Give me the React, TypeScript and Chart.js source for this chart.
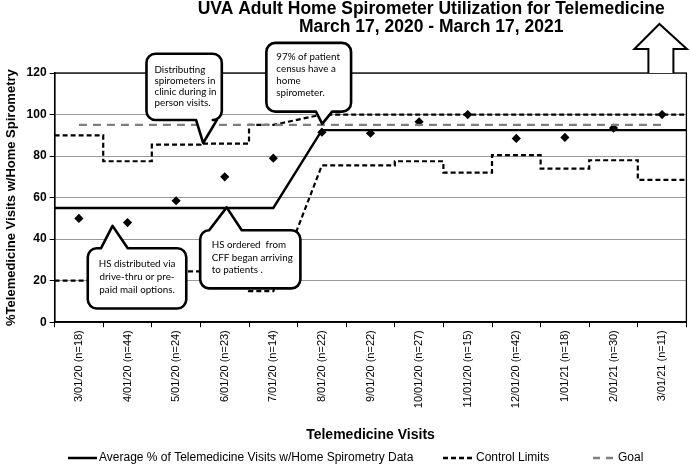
import React, { useEffect, useRef } from "react";
import { Chart, registerables } from "chart.js";

Chart.register(...registerables);

// ---------- data ----------
const monthLabels = [
  "3/01/20 (n=18)", "4/01/20 (n=44)", "5/01/20 (n=24)", "6/01/20 (n=23)",
  "7/01/20 (n=14)", "8/01/20 (n=22)", "9/01/20 (n=22)", "10/01/20 (n=27)",
  "11/01/20 (n=15)", "12/01/20 (n=42)", "1/01/21 (n=18)", "2/01/21 (n=30)",
  "3/01/21 (n=11)",
];
const monthlyPercent = [50, 48, 58.5, 70, 79, 91.5, 91, 96.5, 100, 88.5, 89, 93.5, 100];
const averagePercent = [55, 55, 55, 55, 55, 92.5, 92.5, 92.5, 92.5, 92.5, 92.5, 92.5, 92.5];
const upperControl = [90, 77.5, 85.5, 86, 95, 100, 100, 100, 100, 100, 100, 100, 100];
const lowerControl = [20, 32.5, 24.5, 24, 15, 75.5, 75.5, 77.5, 72, 80.5, 74, 78, 68.5];
const goalPercent = [95, 95, 95, 95, 95, 95, 95, 95, 95, 95, 95, 95, 95];
const phase = [0, 0, 0, 0, 0, 1, 1, 1, 1, 1, 1, 1, 1];
const yTickValues = [0, 20, 40, 60, 80, 100, 120];

const titleLines = [
  "UVA Adult Home Spirometer Utilization for Telemedicine",
  "March 17, 2020 - March 17, 2021",
];
const xTitle = "Telemedicine Visits";
const yTitle = "%Telemedicine Visits w/Home Spirometry";
const legendItems = [
  { label: "Average % of Telemedicine Visits w/Home Spirometry Data", kind: "avg" },
  { label: "Control Limits", kind: "ctl" },
  { label: "Goal", kind: "goal" },
];

type Callout = {
  l: number; r: number; t: number; b: number;
  side: "top" | "bottom"; a: number; c: number; tipX: number; tipY: number;
  lines: string[]; align: "left" | "center"; padX: number; first: number; step: number;
};
const callouts: Callout[] = [
  { l: 1.39, r: 2.94, t: 129.3, b: 97.4, side: "bottom", a: 2.41, c: 2.84, tipX: 2.556, tipY: 86.3,
    lines: ["Distributing", "spirometers in", "clinic during in", "person visits."], align: "left", padX: 8, first: 16, step: 11.2 },
  { l: 3.857, r: 5.6, t: 134.5, b: 101.4, side: "bottom", a: 4.878, c: 5.21, tipX: 5.006, tipY: 95.5,
    lines: ["97% of patient", "census have a", "home", "spirometer."], align: "left", padX: 10, first: 13.5, step: 12.2 },
  { l: 0.182, r: 2.209, t: 35.6, b: 6.6, side: "top", a: 0.453, c: 1.005, tipX: 0.692, tipY: 46.4,
    lines: ["HS distributed via", "drive-thru or pre-", "paid mail options."], align: "center", padX: 0, first: 15.5, step: 13 },
  { l: 2.495, r: 4.557, t: 44.3, b: 16.3, side: "top", a: 2.68, c: 3.35, tipX: 3.04, tipY: 55.3,
    lines: ["HS ordered  from", "CFF began arriving", "to patients ."], align: "left", padX: 11.5, first: 15, step: 12.2 },
];

// full-width series: flat until a phase change, centre-to-centre across it
function stepSeries(values: number[]) {
  const n = values.length;
  const pts: { x: number; y: number }[] = [];
  for (let i = 0; i < n; i++) {
    const left = i > 0 && phase[i] !== phase[i - 1] ? i : i - 0.5;
    const right = i < n - 1 && phase[i] !== phase[i + 1] ? i : i + 0.5;
    pts.push({ x: left, y: values[i] }, { x: right, y: values[i] });
  }
  return pts;
}

const FONT = "'Liberation Sans', Arial, Helvetica, sans-serif";

const decorPlugin = {
  id: "decor",
  afterDatasetsDraw(chart: any) {
    const { ctx, chartArea } = chart;
    const xs = chart.scales.xl;
    const ys = chart.scales.y;
    ctx.save();
    ctx.strokeStyle = "#000";
    ctx.lineWidth = 1.3;
    ctx.strokeRect(chartArea.left, chartArea.top, chartArea.right - chartArea.left, chartArea.bottom - chartArea.top);

    for (const co of callouts) {
      const l = xs.getPixelForValue(co.l), r = xs.getPixelForValue(co.r);
      const t = ys.getPixelForValue(co.t), b = ys.getPixelForValue(co.b);
      const a = xs.getPixelForValue(co.a), c = xs.getPixelForValue(co.c);
      const tx = xs.getPixelForValue(co.tipX), ty = ys.getPixelForValue(co.tipY);
      const rad = 9;
      ctx.beginPath();
      ctx.moveTo(l + rad, t);
      if (co.side === "top") { ctx.lineTo(a, t); ctx.lineTo(tx, ty); ctx.lineTo(c, t); }
      ctx.lineTo(r - rad, t);
      ctx.arcTo(r, t, r, t + rad, rad);
      ctx.lineTo(r, b - rad);
      ctx.arcTo(r, b, r - rad, b, rad);
      if (co.side === "bottom") { ctx.lineTo(c, b); ctx.lineTo(tx, ty); ctx.lineTo(a, b); }
      ctx.lineTo(l + rad, b);
      ctx.arcTo(l, b, l, b - rad, rad);
      ctx.lineTo(l, t + rad);
      ctx.arcTo(l, t, l + rad, t, rad);
      ctx.closePath();
      ctx.fillStyle = "#fff";
      ctx.fill();
      ctx.lineWidth = 2.6;
      ctx.lineJoin = "round";
      ctx.strokeStyle = "#000";
      ctx.stroke();
      ctx.fillStyle = "#000";
      ctx.font = "9.8px Lato, 'Open Sans', sans-serif";
      ctx.textBaseline = "middle";
      ctx.textAlign = co.align;
      const x0 = co.align === "center" ? (l + r) / 2 : l + co.padX;
      co.lines.forEach((ln, k) => ctx.fillText(ln, x0, t + co.first + k * co.step));
    }
    ctx.restore();
  },
  afterDraw(chart: any) {
    const { ctx, chartArea, width, height } = chart;
    ctx.save();
    ctx.fillStyle = "#000";
    ctx.textAlign = "center";
    ctx.textBaseline = "middle";
    ctx.font = `bold 17.5px ${FONT}`;
    const cx = width * 0.624;
    ctx.fillText(titleLines[0], cx, 9.5);
    ctx.fillText(titleLines[1], cx, 27.5);

    const R = chartArea.right, T = chartArea.top;
    ctx.beginPath();
    ctx.moveTo(R - 38, T);
    ctx.lineTo(R - 38, T - 24);
    ctx.lineTo(R - 52, T - 24);
    ctx.lineTo(R - 27, T - 49);
    ctx.lineTo(R + 0.5, T - 24);
    ctx.lineTo(R - 13, T - 24);
    ctx.lineTo(R - 13, T);
    ctx.fillStyle = "#fff";
    ctx.fill();
    ctx.lineWidth = 2;
    ctx.strokeStyle = "#000";
    ctx.lineJoin = "miter";
    ctx.stroke();

    const ly = height - 8;
    ctx.font = `12px ${FONT}`;
    ctx.textAlign = "left";
    const pos = [
      { x0: 68, x1: 97, tx: 99 },
      { x0: 443, x1: 474, tx: 476 },
      { x0: 593, x1: 613, tx: 618 },
    ];
    legendItems.forEach((it, k) => {
      const p = pos[k];
      ctx.beginPath();
      ctx.moveTo(p.x0, ly);
      ctx.lineTo(p.x1, ly);
      if (it.kind === "avg") { ctx.setLineDash([]); ctx.strokeStyle = "#000"; ctx.lineWidth = 2.5; }
      else if (it.kind === "ctl") { ctx.setLineDash([5, 3]); ctx.strokeStyle = "#000"; ctx.lineWidth = 2.5; }
      else { ctx.setLineDash([7, 6]); ctx.strokeStyle = "#7f7f7f"; ctx.lineWidth = 2.5; }
      ctx.stroke();
      ctx.setLineDash([]);
      ctx.fillStyle = "#000";
      ctx.fillText(it.label, p.tx, ly);
    });
    ctx.restore();
  },
};

export default function App() {
  const ref = useRef<HTMLCanvasElement | null>(null);
  useEffect(() => {
    document.body.style.margin = "0";
    const canvas = ref.current;
    if (!canvas) return;
    const chart = new Chart(canvas, {
      type: "line",
      data: {
        labels: monthLabels,
        datasets: [
          {
            label: "Goal",
            xAxisID: "xl",
            data: goalPercent.map((v, i) => ({ x: i, y: v })),
            borderColor: "#7f7f7f",
            borderWidth: 2.2,
            borderDash: [8, 6],
            pointRadius: 0,
            fill: false,
          },
          {
            label: "Upper Control Limit",
            xAxisID: "xl",
            data: stepSeries(upperControl),
            borderColor: "#000",
            borderWidth: 2.2,
            borderDash: [5, 3],
            pointRadius: 0,
            fill: false,
          },
          {
            label: "Lower Control Limit",
            xAxisID: "xl",
            data: stepSeries(lowerControl),
            borderColor: "#000",
            borderWidth: 2.2,
            borderDash: [5, 3],
            pointRadius: 0,
            fill: false,
          },
          {
            label: "Average",
            xAxisID: "xl",
            data: stepSeries(averagePercent),
            borderColor: "#000",
            borderWidth: 2.4,
            pointRadius: 0,
            fill: false,
          },
          {
            label: "Monthly %",
            xAxisID: "xl",
            data: monthlyPercent.map((v, i) => ({ x: i, y: v })),
            showLine: false,
            pointStyle: "rectRot",
            pointRadius: 4.6,
            pointBackgroundColor: "#000",
            pointBorderColor: "#000",
            pointBorderWidth: 0,
          },
        ],
      },
      options: {
        animation: false,
        responsive: true,
        maintainAspectRatio: false,
        layout: { padding: { top: 73, right: 2, left: 4, bottom: 22 } },
        plugins: {
          legend: { display: false },
          title: { display: false },
          tooltip: { enabled: false },
        },
        scales: {
          x: {
            type: "category",
            labels: monthLabels,
            offset: true,
            grid: { offset: true, drawOnChartArea: false, drawTicks: true, tickLength: 5, color: "#000" },
            border: { color: "#000", width: 1.5 },
            ticks: {
              autoSkip: false,
              minRotation: 90,
              maxRotation: 90,
              padding: 3,
              color: "#000",
              font: { family: FONT, size: 11 },
            },
            title: {
              display: true,
              text: xTitle,
              color: "#000",
              font: { family: FONT, size: 14, weight: "bold" },
              padding: { top: 16, bottom: 0 },
            },
          },
          xl: {
            type: "linear",
            display: false,
            min: -0.5,
            max: 12.5,
          },
          y: {
            min: 0,
            max: 120,
            afterBuildTicks: (axis: any) => { axis.ticks = yTickValues.map((v) => ({ value: v })); },
            grid: { color: "#9a9a9a", lineWidth: 1, tickColor: "#000", tickLength: 5 },
            border: { color: "#000", width: 1.5 },
            ticks: {
              color: "#000",
              padding: 3,
              font: { family: FONT, size: 12, weight: "bold" },
            },
            title: {
              display: true,
              text: yTitle,
              color: "#000",
              font: { family: FONT, size: 13, weight: "bold" },
              padding: { top: 0, bottom: 4 },
            },
          },
        },
      },
      plugins: [decorPlugin],
    } as any);
    return () => chart.destroy();
  }, []);
  return (
    <div style={{ position: "absolute", left: 0, top: 0, width: 691, height: 466 }}>
      <canvas ref={ref} />
    </div>
  );
}
